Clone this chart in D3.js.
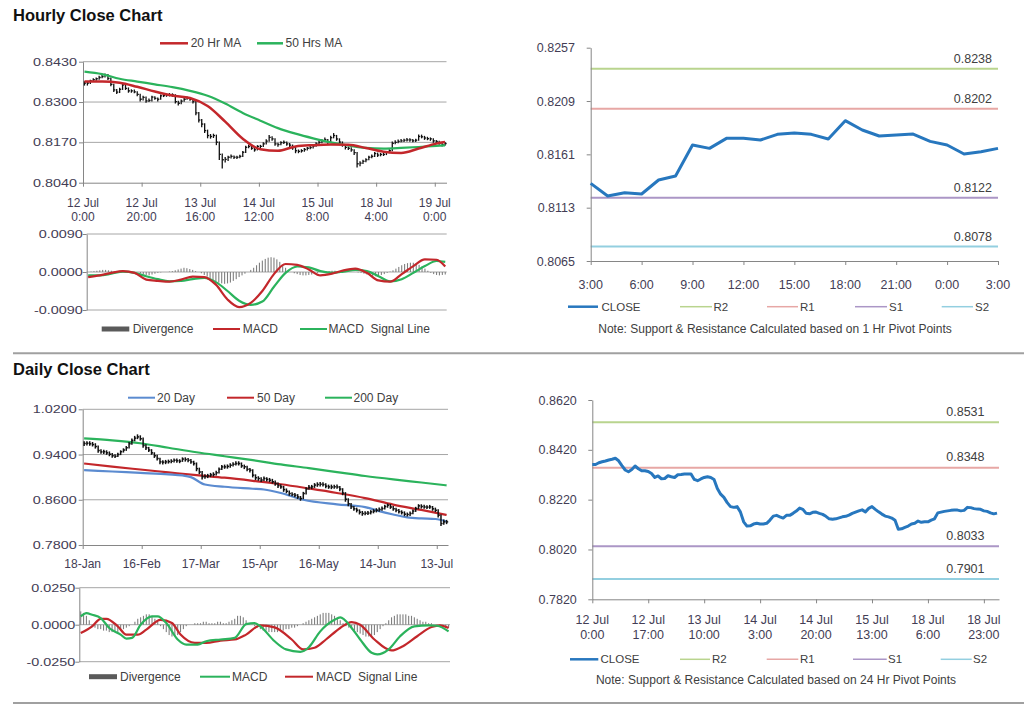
<!DOCTYPE html>
<html><head><meta charset="utf-8">
<script src="https://cdn.jsdelivr.net/npm/d3@7"></script>
<style>body{margin:0;background:#fff}svg{display:block}</style>
</head><body>
<script>
// ---------------- DATA ----------------
// Hourly close (12 Jul 0:00 -> 19 Jul ~3:00), shared by the hourly bar chart and the 24 Hr pivot chart
const hourlyClose = [0.8361,0.8361,0.8368,0.8372,0.8375,0.8379,0.8382,0.8386,0.8376,0.8357,
 0.8339,0.8332,0.8341,0.8355,0.8344,0.8336,0.8336,0.8333,0.8325,0.8309,
 0.8315,0.8304,0.8305,0.8316,0.8312,0.8309,0.8320,0.8321,0.8323,0.8323,
 0.8323,0.8301,0.8296,0.8303,0.8309,0.8312,0.8309,0.8301,0.8265,0.8242,
 0.8229,0.8208,0.8192,0.8189,0.8192,0.8171,0.8131,0.8114,0.8115,0.8122,
 0.8125,0.8122,0.8122,0.8125,0.8138,0.8154,0.8157,0.8151,0.8146,0.8157,
 0.8157,0.8165,0.8174,0.8186,0.8181,0.8165,0.8163,0.8169,0.8170,0.8165,
 0.8161,0.8153,0.8143,0.8141,0.8143,0.8147,0.8151,0.8153,0.8158,0.8165,
 0.8170,0.8175,0.8179,0.8171,0.8185,0.8192,0.8181,0.8171,0.8162,0.8154,
 0.8151,0.8146,0.8137,0.8101,0.8103,0.8109,0.8114,0.8122,0.8125,0.8134,
 0.8129,0.8131,0.8131,0.8138,0.8143,0.8167,0.8170,0.8173,0.8175,0.8177,
 0.8178,0.8178,0.8175,0.8177,0.8189,0.8188,0.8184,0.8182,0.8181,0.8175,
 0.8173,0.8167,0.8163,0.8166];
// high above close / low below close, in pips (0.0001)
const hourlyHighPips = [6,5,4,5,4,6,8,6,14,22, 20,10,5,6,14,11,5,7,10,18, 5,14,6,4,7,6,4,5,4,6,
 5,24,8,5,4,6,7,10,38,26, 16,24,19,8,6,24,42,20,8,5, 6,6,5,5,4,5,6,9,8,4,
 5,5,6,8,9,18,6,5,6,8, 7,10,12,6,5,5,4,5,5,5, 6,5,7,10,6,8,13,12,11,10,
 6,8,11,38,6,5,5,5,6,5, 8,5,6,4,5,6,7,6,6,5, 6,5,6,5,6,7,7,6,5,8, 5,8,7,5];
const hourlyLowPips = [8,8,10,6,6,7,5,7,5,6, 7,6,12,16,5,6,6,5,6,7, 10,6,5,14,5,7,13,5,6,5,
 6,6,7,10,8,5,5,6,8,8, 10,8,9,7,8,10,18,28,10,12, 7,6,6,6,15,18,6,5,6,13,
 6,10,11,14,6,6,7,8,5,6, 6,7,8,6,6,7,7,5,8,9, 8,8,7,6,16,9,6,6,6,7,
 6,6,8,12,10,9,8,10,6,11, 6,6,5,9,8,26,6,6,5,6, 5,6,5,6,14,5,6,5,6,6, 6,5,6,7];
const hourlyTickIdx = [0,20,40,60,80,100,120];
const hourlyTickDay = ["12 Jul","12 Jul","13 Jul","14 Jul","15 Jul","18 Jul","19 Jul"];
const hourlyTickTime = ["0:00","20:00","16:00","12:00","8:00","4:00","0:00"];
const hourlyMaIdx = [0,6,12,18,24,30,36,42,48,54,60,66,72,78,84,90,96,102,108,114,120,123];
const ma20Hr = [0.8366,0.8366,0.8362,0.8349,0.8334,0.8321,0.8313,0.8287,0.8237,0.8182,0.8148,0.8143,0.8157,0.8161,0.8163,0.8162,0.8152,0.8140,0.8136,0.8150,0.8166,0.8171];
const ma50Hrs = [0.8398,0.8390,0.8375,0.8366,0.8357,0.8348,0.8336,0.8320,0.8295,0.8265,0.8240,0.8216,0.8198,0.8183,0.8170,0.8160,0.8152,0.8150,0.8152,0.8155,0.8159,0.8160];
// hourly MACD
const hourlyMacdIdx = [0,4,8,12,16,20,24,28,32,36,40,44,48,52,56,60,64,68,72,76,80,84,88,92,96,100,104,108,112,116,120,123];
const hourlyMacd = [-0.0012,-0.0008,-0.0002,0.0002,-0.0002,-0.0018,-0.0021,-0.0023,-0.0018,-0.0011,-0.0012,-0.0030,-0.0065,-0.0083,-0.0073,-0.0045,-0.0005,0.0019,0.0017,0.0006,-0.0008,-0.0004,0.0004,0.0008,-0.0002,-0.0020,-0.0023,-0.0005,0.0014,0.0030,0.0029,0.0013];
const hourlySignal = [-0.0008,-0.0008,-0.0004,0.0001,-0.0002,-0.0010,-0.0017,-0.0022,-0.0021,-0.0017,-0.0014,-0.0024,-0.0045,-0.0068,-0.0078,-0.0070,-0.0035,-0.0002,0.0013,0.0011,0.0002,-0.0002,0.0001,0.0005,0.0002,-0.0010,-0.0022,-0.0017,-0.0002,0.0014,0.0026,0.0024];
// divergence in 0.0001 units
const hourlyDivergence = [0,1,2,3, 4,5,5,4,3,2, 1,0,0,0,-1,-1,0,0, -3,-5,-7,-8,-6,-4,-2, -1,0,0,1,2,
 4,6,8,10,9,7,5,2,0, -3,-7,-11,-15,-19,-22,-25,-27,-28,-27,-25, -21,-17,-12,-8,-4,0,
 5,10,16,22,27,31,34,35,34, 30,24,17,10,4,0, -3,-5,-7,-8,-8,-7,-6,-4,-2,0,
 1,2,2,3,3,2,2,1,1,0,0,0,-1,-2, -4,-6,-8,-10,-10,-9,-7,-5,-2,
 1,4,8,12,16,19,21,22,22,20,17,13,8,3, -2,-5,-7,-8,-7,-6];

// Daily (18 Jan -> 19 Jul)
const dailyClose = [0.9595,0.9600,0.9590,0.9577,0.9540,0.9470,0.9447,0.9450,0.9430,0.9405,
 0.9380,0.9370,0.9400,0.9450,0.9480,0.9520,0.9590,0.9650,0.9690,0.9712,
 0.9680,0.9560,0.9520,0.9480,0.9430,0.9380,0.9330,0.9270,0.9265,0.9270,
 0.9275,0.9280,0.9300,0.9290,0.9282,0.9320,0.9310,0.9300,0.9270,0.9240,
 0.9150,0.9093,0.9005,0.9010,0.9023,0.9040,0.9046,0.9080,0.9140,0.9182,
 0.9182,0.9190,0.9211,0.9230,0.9241,0.9241,0.9200,0.9182,0.9140,0.9123,
 0.9035,0.8990,0.8976,0.8950,0.8976,0.8960,0.8946,0.8920,0.8887,0.8850,
 0.8828,0.8780,0.8750,0.8710,0.8695,0.8681,0.8650,0.8622,0.8710,0.8790,
 0.8820,0.8828,0.8860,0.8869,0.8875,0.8869,0.8840,0.8828,0.8828,0.8830,
 0.8828,0.8790,0.8720,0.8610,0.8530,0.8475,0.8440,0.8416,0.8380,0.8357,
 0.8360,0.8365,0.8386,0.8400,0.8416,0.8430,0.8445,0.8480,0.8504,0.8474,
 0.8440,0.8416,0.8390,0.8374,0.8345,0.8339,0.8357,0.8400,0.8445,0.8492,
 0.8480,0.8474,0.8470,0.8474,0.8440,0.8416,0.8327,0.8180,0.8209,0.8209];
const dailyHighPips = [40,35,45,45,60,90,45,35,45,50, 45,35,30,25,30,30,30,35,40,45,
 60,140,60,55,65,60,65,75,35,35, 35,35,30,40,35,30,40,40,50,50,
 110,75,105,40,35,35,40,35,30,35, 40,35,35,35,40,40,60,40,60,40,
 105,60,40,50,35,40,40,50,55,55, 45,65,50,55,40,40,50,45,30,30,
 40,35,35,40,40,40,50,40,40,35, 40,55,85,125,95,70,50,45,50,45,
 35,35,30,35,35,35,35,30,30,50, 50,45,45,40,50,35,35,30,30,30,
 40,40,35,35,50,45,105,160,40,35];
const dailyLowPips = [45,40,35,35,35,40,35,40,35,35, 35,30,45,60,45,55,85,75,55,40,
 35,40,40,35,35,40,35,40,40,40, 35,35,40,35,35,50,35,35,35,35,
 45,40,45,40,40,40,35,50,75,55, 35,40,45,40,35,35,35,40,35,40,
 40,40,40,35,45,35,35,35,40,40, 35,40,35,40,35,35,35,40,100,95,
 45,40,50,40,40,35,35,35,40,35, 35,40,40,45,45,40,35,40,40,40,
 35,35,45,40,40,40,40,50,45,35, 35,35,35,35,35,35,45,55,60,60,
 35,35,35,35,35,35,40,45,50,40];
const dailyTickIdx = [0,21,42,63,84,105,126];
const dailyTickLabels = ["18-Jan","16-Feb","17-Mar","15-Apr","16-May","14-Jun","13-Jul"];
const dailyMaIdx = [0,10,20,30,40,50,60,70,80,90,100,110,120,129];
const ma200Day = [0.9685,0.9650,0.9600,0.9520,0.9440,0.9370,0.9300,0.9225,0.9160,0.9090,0.9020,0.8960,0.8905,0.8855];
const ma50Day = [0.9241,0.9186,0.9135,0.9085,0.9035,0.8990,0.8935,0.8875,0.8800,0.8720,0.8630,0.8515,0.8420,0.8330];
const ma20DayIdx = [0,10,20,30,35,38,43,50,60,64,70,78,90,100,105,110,115,120,125,129];
const ma20Day = [0.9125,0.9100,0.9075,0.9050,0.9030,0.9000,0.8870,0.8830,0.8795,0.8781,0.8720,0.8600,0.8520,0.8470,0.8400,0.8340,0.8290,0.8270,0.8260,0.8215];
// daily MACD
const dailyMacdIdx = [0,2,4,7,10,14,16,18,21,25,27,30,34,37,41,44,49,54,58,61,63,68,72,77,80,84,89,91,95,98,102,104,108,112,117,122,125,129];
const dailyMacd = [0.0056,0.0078,0.0067,0.0045,-0.0022,-0.0067,-0.0094,-0.0089,0.0000,0.0056,0.0056,0.0011,-0.0100,-0.0134,-0.0134,-0.0112,-0.0100,-0.0089,0.0004,0.0011,-0.0011,-0.0112,-0.0167,-0.0183,-0.0152,-0.0045,0.0033,0.0049,-0.0022,-0.0100,-0.0190,-0.0201,-0.0167,-0.0078,-0.0011,-0.0004,-0.0007,-0.0045];
const dailySignalIdx = [0,4,7,9,13,16,20,23,28,32,35,40,44,49,54,58,63,68,74,78,82,86,91,95,98,103,109,113,118,123,126,129];
const dailySignal = [-0.0056,-0.0011,0.0040,0.0040,-0.0011,-0.0067,-0.0067,-0.0033,0.0033,0.0011,-0.0067,-0.0123,-0.0123,-0.0107,-0.0100,-0.0067,-0.0004,-0.0018,-0.0100,-0.0167,-0.0156,-0.0100,-0.0022,0.0018,0.0000,-0.0100,-0.0174,-0.0145,-0.0078,-0.0016,-0.0004,-0.0022];
// divergence in 0.001 units
const dailyDivergence = [9,8,6,3, -1,-2,-3,-3,-4,-4,-5,-5,-5,-5,-4,-3,-2,-1,0,
 2,4,5,6,7,7,6,4,2, -1,-3,-5,-7,-8,-8,-7,-5,-3,-1,
 0,0,1,1,1,2,2,1,1,1,2,2,1,1,2, 3,4,6,6,5,3,1,0,
 -1,-2,-3,-4,-4,-5,-5,-5,-5,-4,-4,-3,-3,-2,-2,-1,0,
 1,2,3,4,5,6,7,8,8,8,7,6,4,3,1, -1,-2,-3,-4,-5,-6,-7,-8,-8,-8,-7,-5,-3,-1,
 1,3,5,6,7,7,7,7,6,6,5,4,3,2,2,1, 1,0,0,-1,-1,-2,-2];

// 1 Hr pivot chart
const pivot1hClose = [0.81349,0.81235,0.81265,0.81253,0.81379,0.81415,0.81694,0.81664,0.81754,0.81754,0.81739,0.81790,0.81802,0.81790,0.81748,0.81913,0.81829,0.81775,0.81784,0.81793,0.81727,0.81694,0.81613,0.81634,0.81664];
const pivot1hTicks = ["3:00","6:00","9:00","12:00","15:00","18:00","21:00","0:00","3:00"];
const pivot1hLevels = [0.8238,0.8202,0.8122,0.8078]; // R2,R1,S1,S2
const pivot1hYTicks = [0.8065,0.8113,0.8161,0.8209,0.8257];
// 24 Hr pivot chart
const pivot24TickIdx = [0,17,34,51,68,85,102,119];
const pivot24TickDay = ["12 Jul","12 Jul","13 Jul","14 Jul","14 Jul","15 Jul","18 Jul","18 Jul"];
const pivot24TickTime = ["0:00","17:00","10:00","3:00","20:00","13:00","6:00","23:00"];
const pivot24Levels = [0.8531,0.8348,0.8033,0.7901];
const pivot24YTicks = [0.7820,0.8020,0.8220,0.8420,0.8620];
const levelNames = ["R2","R1","S1","S2"];

// ---------------- DRAWING ----------------
const FONT = "Arial, 'Liberation Sans', Helvetica, sans-serif";
const TXT = "#404040", TICK = "#433d55", GRID = "#a6a6a6", AX = "#868686";
const RED = "#c3272b", GREEN = "#2bb35c", BLUE20 = "#5b8bd0", GRAYBAR = "#808080";
const CLOSEC = "#2777be";
const levelColors = ["#b9d48e","#e7a7a5","#ab96c6","#93cfe0"];

const svg = d3.select("body").append("svg").attr("width",1024).attr("height",706);
const f4 = d3.format(".4f");
const fmt4 = v => f4(v).replace("\u2212","-");

function hl(x1,x2,y,c,w){ svg.append("line").attr("x1",x1).attr("x2",x2).attr("y1",y).attr("y2",y).attr("stroke",c).attr("stroke-width",w||1); }
function txt(x,y,s,o){ o=o||{}; return svg.append("text").attr("x",x).attr("y",y).attr("font-family",FONT)
  .attr("font-size",o.fs||12).attr("fill",o.fill||TXT).attr("text-anchor",o.anchor||"start")
  .attr("font-weight",o.bold?"bold":"normal").text(s); }
function leftAxis(scale,x,vals,gap,stretch,fs){
  const a = svg.append("g").attr("transform",`translate(${x},0)`)
    .call(d3.axisLeft(scale).tickValues(vals).tickSize(4).tickSizeOuter(0).tickFormat(fmt4));
  a.attr("font-family",FONT);
  a.select(".domain").attr("stroke",AX);
  a.selectAll(".tick line").attr("stroke",AX);
  const t = a.selectAll("text").attr("fill",TICK);
  if(stretch) t.attr("font-size",11).attr("x",-gap/stretch).attr("transform",`scale(${stretch},1)`);
  else t.attr("font-size",fs||12.5).attr("x",-gap);
}
function bottomAxis(scale,y,vals,l1,l2,d1,d2,fs){
  const a = svg.append("g").attr("transform",`translate(0,${y})`)
    .call(d3.axisBottom(scale).tickValues(vals).tickSize(4).tickSizeOuter(0).tickFormat(""));
  a.select(".domain").attr("stroke",AX);
  a.selectAll(".tick line").attr("stroke",AX);
  vals.forEach((v,i)=>{
    txt(scale(v),y+d1,l1[i],{anchor:"middle",fs:fs,fill:TICK});
    if(l2) txt(scale(v),y+d2,l2[i],{anchor:"middle",fs:fs,fill:TICK});
  });
}
function legendLine(x1,x2,y,c,w,label,tx,fs){ hl(x1,x2,y,c,w); txt(tx,y+4,label,{fs:fs||12}); }
function legendBlock(x1,x2,y,label,tx){ svg.append("rect").attr("x",x1).attr("y",y-2.5).attr("width",x2-x1).attr("height",5).attr("fill","#5a5a5a"); txt(tx,y+4,label,{fs:12}); }
function path(idx,vals,x,y,c,w,off){
  const pts = vals.map((v,i)=>[x(idx[i]+(off||0)),y(v)]);
  svg.append("path").attr("d",d3.line().curve(d3.curveMonotoneX)(pts)).attr("fill","none").attr("stroke",c).attr("stroke-width",w).attr("stroke-linejoin","round");
}
function bars(close,hiP,loP,x,y,unit,w){
  const g = svg.append("g").attr("stroke","#111").attr("stroke-width",w);
  close.forEach((c,k)=>{
    const xc = x(k+0.5);
    g.append("line").attr("x1",xc).attr("x2",xc).attr("y1",y(c+hiP[k]*unit)).attr("y2",y(c-loP[k]*unit));
    g.append("line").attr("x1",xc).attr("x2",xc+1.6).attr("y1",y(c)).attr("y2",y(c));
  });
}
function divergence(vals,unit,x,y){
  const g = svg.append("g").attr("fill",GRAYBAR);
  vals.forEach((v,k)=>{ const yv=y(v*unit), y0=y(0);
    g.append("rect").attr("x",x(k+0.5)-0.55).attr("width",1.1).attr("y",Math.min(yv,y0)).attr("height",Math.abs(yv-y0)); });
}

// ===== Hourly Close Chart (top-left) =====
txt(13,21,"Hourly Close Chart",{fs:16.5,bold:true,fill:"#111"});
legendLine(160,188,43.3,RED,2.5,"20 Hr MA",190.7);
legendLine(257,283,43.3,GREEN,2.5,"50 Hrs MA",285.5);
const xH = d3.scaleLinear().domain([0,124]).range([83,446.5]);
const yH = d3.scaleLinear().domain([0.804,0.843]).range([182.7,61.7]);
[0.817,0.830,0.843].forEach(v=>hl(83,446.5,yH(v),GRID,1));
leftAxis(yH,83,[0.804,0.817,0.830,0.843],6,1.31);
bottomAxis(xH,182.7,hourlyTickIdx,hourlyTickDay,hourlyTickTime,24.5,38.5,12);
bars(hourlyClose,hourlyHighPips,hourlyLowPips,xH,yH,0.0001,1.3);
path(hourlyMaIdx,ma50Hrs,xH,yH,GREEN,2.2,0.5);
path(hourlyMaIdx,ma20Hr,xH,yH,RED,2.5,0.5);

// hourly MACD
const xHM = d3.scaleLinear().domain([0,124]).range([86.7,446.7]);
const yHM = d3.scaleLinear().domain([-0.009,0.009]).range([310,234]);
[-0.009,0,0.009].forEach(v=>hl(86.7,446.7,yHM(v),GRID,1));
leftAxis(yHM,86.7,[-0.009,0,0.009],4,1.31);
divergence(hourlyDivergence,0.0001,xHM,yHM);
path(hourlyMacdIdx,hourlySignal,xHM,yHM,GREEN,2.2,0.5);
path(hourlyMacdIdx,hourlyMacd,xHM,yHM,RED,2.2,0.5);
legendBlock(101.7,129.3,329,"Divergence",132.7);
legendLine(213,240,329,RED,2,"MACD",242.7);
legendLine(300,327,329,GREEN,2,"MACD\u00a0 Signal Line",328.5);

hl(13,1024,353.3,"#a0a0a0",2);

// ===== Daily Close Chart (bottom-left) =====
txt(13,375,"Daily Close Chart",{fs:16.5,bold:true,fill:"#111"});
legendLine(128,155,397.7,BLUE20,2,"20 Day",157);
legendLine(227,254,397.7,RED,2,"50 Day",257);
legendLine(325,352,397.7,GREEN,2,"200 Day",353.5);
const xD = d3.scaleLinear().domain([0,130]).range([82.7,448]);
const yD = d3.scaleLinear().domain([0.78,1.02]).range([545,409.3]);
[0.86,0.94,1.02].forEach(v=>hl(82.7,448,yD(v),GRID,1));
leftAxis(yD,82.7,[0.78,0.86,0.94,1.02],6,1.31);
bottomAxis(xD,545,dailyTickIdx,dailyTickLabels,null,22.5,0,12);
path(dailyMaIdx,ma200Day,xD,yD,GREEN,2.2,0.5);
path(dailyMaIdx,ma50Day,xD,yD,RED,2.2,0.5);
path(ma20DayIdx,ma20Day,xD,yD,BLUE20,2.2,0.5);
bars(dailyClose,dailyHighPips,dailyLowPips,xD,yD,0.0001,1.5);

// daily MACD
const xDM = d3.scaleLinear().domain([0,130]).range([79.3,450]);
const yDM = d3.scaleLinear().domain([-0.025,0.025]).range([661.7,587.7]);
[-0.025,0,0.025].forEach(v=>hl(79.3,450,yDM(v),GRID,1));
leftAxis(yDM,79.3,[-0.025,0,0.025],4,1.31);
divergence(dailyDivergence,0.001,xDM,yDM);
path(dailySignalIdx,dailySignal,xDM,yDM,RED,2.2,0.5);
path(dailyMacdIdx,dailyMacd,xDM,yDM,GREEN,2.2,0.5);
legendBlock(89,117,676.7,"Divergence",120);
legendLine(200,230,676.7,GREEN,2,"MACD",232);
legendLine(285,313,676.7,RED,2,"MACD\u00a0 Signal Line",316);

hl(13,1024,703,"#a0a0a0",2);

// ===== 1 Hr pivot chart (top-right) =====
const xP = d3.scaleLinear().domain([0,24]).range([590.7,998]);
const yP = d3.scaleLinear().domain([0.8065,0.8257]).range([261,47.7]);
pivot1hLevels.forEach((v,i)=>{ hl(xP(0),xP(24),yP(v),levelColors[i],2); txt(992,yP(v)-5.5,fmt4(v),{anchor:"end",fs:12.5}); });
leftAxis(yP,590.7,pivot1hYTicks,15.7,0,12.5);
bottomAxis(xP,261,d3.range(0,25,3),pivot1hTicks,null,27.5,0,12.5);
svg.append("path").attr("d",d3.line().x((d,i)=>xP(i)).y(d=>yP(d))(pivot1hClose)).attr("fill","none").attr("stroke",CLOSEC).attr("stroke-width",3).attr("stroke-linejoin","round");
legendLine(568,598,306.7,CLOSEC,2.5,"CLOSE",601.5,11.5);
[[680,712,713.5],[767,798,800],[855,887,889],[941.7,973,975]].forEach((p,i)=>legendLine(p[0],p[1],306.7,levelColors[i],1.5,levelNames[i],p[2],11.5));
txt(775,332.5,"Note: Support & Resistance Calculated based on 1 Hr Pivot Points",{anchor:"middle",fs:12});

// ===== 24 Hr pivot chart (bottom-right) =====
const xQ = d3.scaleLinear().domain([0,123.6]).range([592.3,999]);
const yQ = d3.scaleLinear().domain([0.782,0.862]).range([599.3,400]);
pivot24Levels.forEach((v,i)=>{ hl(xQ(0),xQ(123.6),yQ(v),levelColors[i],2); txt(984.5,yQ(v)-6.5,fmt4(v),{anchor:"end",fs:12.5}); });
leftAxis(yQ,592.3,pivot24YTicks,15.5,0,12.5);
bottomAxis(xQ,599.3,pivot24TickIdx,pivot24TickDay,pivot24TickTime,25,39.5,12.5);
svg.append("path").attr("d",d3.line().x((d,i)=>xQ(i)).y(d=>yQ(d))(hourlyClose)).attr("fill","none").attr("stroke",CLOSEC).attr("stroke-width",3).attr("stroke-linejoin","round");
legendLine(570,598.3,659.3,CLOSEC,2.5,"CLOSE",600.5,11.5);
[[680,710,712],[766.7,798.3,800],[853,886.7,888],[940.7,971.7,973]].forEach((p,i)=>legendLine(p[0],p[1],659.3,levelColors[i],1.5,levelNames[i],p[2],11.5));
txt(776,684,"Note: Support & Resistance Calculated based on 24 Hr Pivot Points",{anchor:"middle",fs:12});
</script>
</body></html>
